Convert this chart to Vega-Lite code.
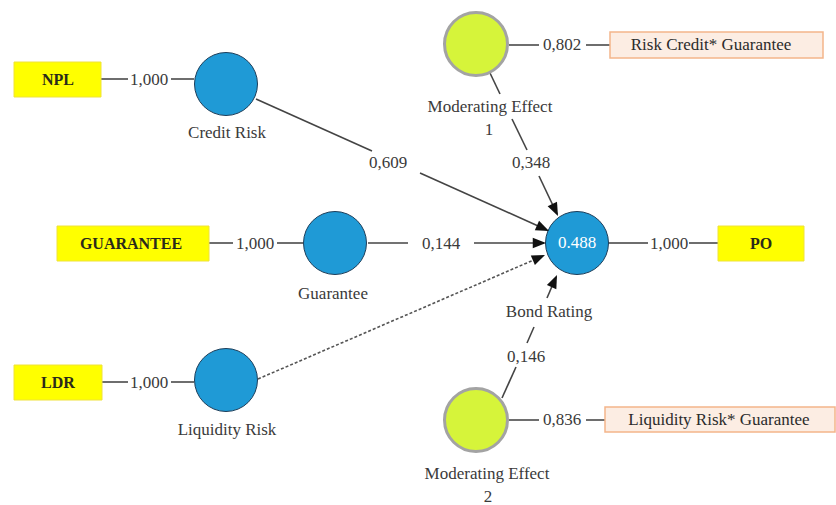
{
  "$schema": "https://vega.github.io/schema/vega-lite/v6.json",
  "width": 836,
  "height": 505,
  "autosize": {"type": "fit", "contains": "padding"},
  "padding": 0,
  "background": "#ffffff",
  "config": {"view": {"stroke": null}},
  "datasets": {
    "nodes": [
      {"name": "Credit Risk", "kind": "latent", "x": 226, "y": 84},
      {"name": "Guarantee", "kind": "latent", "x": 335, "y": 243},
      {"name": "Liquidity Risk", "kind": "latent", "x": 226, "y": 380},
      {"name": "Bond Rating", "kind": "latent", "x": 577, "y": 243},
      {"name": "Moderating Effect 1", "kind": "moderator", "x": 476, "y": 44},
      {"name": "Moderating Effect 2", "kind": "moderator", "x": 476, "y": 420}
    ],
    "boxes": [
      {"label": "NPL", "kind": "indicator", "x1": 14, "x2": 101, "y1": 62, "y2": 97, "lx": 58, "ly": 80},
      {"label": "GUARANTEE", "kind": "indicator", "x1": 57, "x2": 209, "y1": 226, "y2": 261, "lx": 131, "ly": 244},
      {"label": "LDR", "kind": "indicator", "x1": 14, "x2": 102, "y1": 365, "y2": 400, "lx": 58, "ly": 383},
      {"label": "PO", "kind": "indicator", "x1": 718, "x2": 804, "y1": 226, "y2": 261, "lx": 761, "ly": 244},
      {"label": "Risk Credit* Guarantee", "kind": "interaction", "x1": 610, "x2": 823, "y1": 32, "y2": 58, "lx": 711, "ly": 45},
      {"label": "Liquidity Risk* Guarantee", "kind": "interaction", "x1": 605, "x2": 835, "y1": 407, "y2": 432, "lx": 719, "ly": 420}
    ],
    "segments": [
      {"edge": "NPL-Credit Risk", "kind": "outer", "x": 101, "y": 79, "x2": 128, "y2": 79},
      {"edge": "NPL-Credit Risk", "kind": "outer", "x": 171, "y": 79, "x2": 194, "y2": 79},
      {"edge": "GUARANTEE-Guarantee", "kind": "outer", "x": 209, "y": 243, "x2": 233, "y2": 243},
      {"edge": "GUARANTEE-Guarantee", "kind": "outer", "x": 277, "y": 243, "x2": 303, "y2": 243},
      {"edge": "LDR-Liquidity Risk", "kind": "outer", "x": 102, "y": 382, "x2": 128, "y2": 382},
      {"edge": "LDR-Liquidity Risk", "kind": "outer", "x": 171, "y": 382, "x2": 194, "y2": 382},
      {"edge": "Bond Rating-PO", "kind": "outer", "x": 608, "y": 243, "x2": 648, "y2": 243},
      {"edge": "Bond Rating-PO", "kind": "outer", "x": 689, "y": 243, "x2": 718, "y2": 243},
      {"edge": "ME1-Interaction", "kind": "outer", "x": 509, "y": 45, "x2": 539, "y2": 45},
      {"edge": "ME1-Interaction", "kind": "outer", "x": 586, "y": 45, "x2": 610, "y2": 45},
      {"edge": "ME2-Interaction", "kind": "outer", "x": 509, "y": 420, "x2": 539, "y2": 420},
      {"edge": "ME2-Interaction", "kind": "outer", "x": 586, "y": 420, "x2": 605, "y2": 420},
      {"edge": "Guarantee-Bond Rating", "kind": "inner", "x": 368, "y": 243, "x2": 408, "y2": 243},
      {"edge": "Guarantee-Bond Rating", "kind": "inner", "x": 474, "y": 243, "x2": 544, "y2": 243},
      {"edge": "Credit Risk-Bond Rating", "kind": "inner", "x": 256, "y": 99, "x2": 372, "y2": 151},
      {"edge": "Credit Risk-Bond Rating", "kind": "inner", "x": 420, "y": 173, "x2": 547, "y2": 230},
      {"edge": "ME1-Bond Rating", "kind": "inner", "x": 490, "y": 73, "x2": 500, "y2": 94},
      {"edge": "ME1-Bond Rating", "kind": "inner", "x": 512, "y": 119, "x2": 527, "y2": 150},
      {"edge": "ME1-Bond Rating", "kind": "inner", "x": 539, "y": 176, "x2": 557, "y2": 214},
      {"edge": "ME2-Bond Rating", "kind": "inner", "x": 502, "y": 398, "x2": 516, "y2": 367},
      {"edge": "ME2-Bond Rating", "kind": "inner", "x": 527, "y": 343, "x2": 534, "y2": 327},
      {"edge": "ME2-Bond Rating", "kind": "inner", "x": 547, "y": 298, "x2": 556, "y2": 277},
      {"edge": "Liquidity Risk-Bond Rating", "kind": "dashed", "x": 258, "y": 379, "x2": 543, "y2": 256}
    ],
    "arrows": [
      {"edge": "Guarantee-Bond Rating", "sx": 474, "sy": 243, "tx": 546, "ty": 243},
      {"edge": "Credit Risk-Bond Rating", "sx": 420, "sy": 173, "tx": 549, "ty": 231},
      {"edge": "ME1-Bond Rating", "sx": 490, "sy": 73, "tx": 558, "ty": 216},
      {"edge": "Liquidity Risk-Bond Rating", "sx": 258, "sy": 379, "tx": 545, "ty": 255},
      {"edge": "ME2-Bond Rating", "sx": 502, "sy": 398, "tx": 557, "ty": 275}
    ],
    "labels": [
      {"text": "1,000", "kind": "edge", "x": 149, "y": 80},
      {"text": "1,000", "kind": "edge", "x": 255, "y": 244},
      {"text": "1,000", "kind": "edge", "x": 149, "y": 383},
      {"text": "1,000", "kind": "edge", "x": 669, "y": 244},
      {"text": "0,144", "kind": "edge", "x": 441, "y": 244},
      {"text": "0,609", "kind": "edge", "x": 388, "y": 163},
      {"text": "0,348", "kind": "edge", "x": 531, "y": 163},
      {"text": "0,146", "kind": "edge", "x": 526, "y": 357},
      {"text": "0,802", "kind": "edge", "x": 562, "y": 45},
      {"text": "0,836", "kind": "edge", "x": 562, "y": 420},
      {"text": "Credit Risk", "kind": "node", "x": 227, "y": 133},
      {"text": "Guarantee", "kind": "node", "x": 333, "y": 294},
      {"text": "Liquidity Risk", "kind": "node", "x": 227, "y": 430},
      {"text": "Bond Rating", "kind": "node", "x": 549, "y": 312},
      {"text": "Moderating Effect", "kind": "node", "x": 490, "y": 107},
      {"text": "1", "kind": "node", "x": 489, "y": 130},
      {"text": "Moderating Effect", "kind": "node", "x": 487, "y": 474},
      {"text": "2", "kind": "node", "x": 488, "y": 497},
      {"text": "0.488", "kind": "value", "x": 577, "y": 243}
    ]
  },
  "layer": [
    {
      "data": {"name": "segments"},
      "transform": [{"filter": "datum.kind === 'outer'"}],
      "mark": {"type": "rule", "stroke": "#6e6e6e", "strokeWidth": 2},
      "encoding": {
        "x": {"field": "x", "type": "quantitative", "scale": {"domain": [0, 836], "nice": false, "zero": false}, "axis": null},
        "y": {"field": "y", "type": "quantitative", "scale": {"domain": [0, 505], "nice": false, "zero": false, "reverse": true}, "axis": null},
        "x2": {"field": "x2"},
        "y2": {"field": "y2"}
      }
    },
    {
      "data": {"name": "segments"},
      "transform": [{"filter": "datum.kind === 'inner'"}],
      "mark": {"type": "rule", "stroke": "#444444", "strokeWidth": 1.6},
      "encoding": {
        "x": {"field": "x", "type": "quantitative"},
        "y": {"field": "y", "type": "quantitative"},
        "x2": {"field": "x2"},
        "y2": {"field": "y2"}
      }
    },
    {
      "data": {"name": "segments"},
      "transform": [{"filter": "datum.kind === 'dashed'"}],
      "mark": {"type": "rule", "stroke": "#555555", "strokeWidth": 1.6, "strokeDash": [3, 2]},
      "encoding": {
        "x": {"field": "x", "type": "quantitative"},
        "y": {"field": "y", "type": "quantitative"},
        "x2": {"field": "x2"},
        "y2": {"field": "y2"}
      }
    },
    {
      "data": {"name": "boxes"},
      "transform": [{"filter": "datum.kind === 'indicator'"}],
      "mark": {"type": "rect", "fill": "#ffff00", "stroke": "#efe23a", "strokeWidth": 1},
      "encoding": {
        "x": {"field": "x1", "type": "quantitative"},
        "x2": {"field": "x2"},
        "y": {"field": "y1", "type": "quantitative"},
        "y2": {"field": "y2"}
      }
    },
    {
      "data": {"name": "boxes"},
      "transform": [{"filter": "datum.kind === 'interaction'"}],
      "mark": {"type": "rect", "fill": "#fcede3", "stroke": "#f4b58a", "strokeWidth": 1.5},
      "encoding": {
        "x": {"field": "x1", "type": "quantitative"},
        "x2": {"field": "x2"},
        "y": {"field": "y1", "type": "quantitative"},
        "y2": {"field": "y2"}
      }
    },
    {
      "data": {"name": "nodes"},
      "transform": [{"filter": "datum.kind === 'latent'"}],
      "mark": {"type": "point", "shape": "circle", "filled": true, "fill": "#1f9ad6", "stroke": "#1d3e5a", "strokeWidth": 1, "size": 3969, "opacity": 1},
      "encoding": {
        "x": {"field": "x", "type": "quantitative"},
        "y": {"field": "y", "type": "quantitative"}
      }
    },
    {
      "data": {"name": "nodes"},
      "transform": [{"filter": "datum.kind === 'moderator'"}],
      "mark": {"type": "point", "shape": "circle", "filled": true, "fill": "#d6f43a", "stroke": "#a3a3a3", "strokeWidth": 3, "size": 3969, "opacity": 1},
      "encoding": {
        "x": {"field": "x", "type": "quantitative"},
        "y": {"field": "y", "type": "quantitative"}
      }
    },
    {
      "data": {"name": "arrows"},
      "transform": [{"calculate": "atan2(datum.tx - datum.sx, datum.sy - datum.ty) * 180 / PI", "as": "heading"}],
      "mark": {"type": "point", "shape": "M0,0L-0.45,1.15L0.45,1.15Z", "filled": true, "fill": "#111111", "stroke": null, "size": 529, "opacity": 1},
      "encoding": {
        "x": {"field": "tx", "type": "quantitative"},
        "y": {"field": "ty", "type": "quantitative"},
        "angle": {"field": "heading", "type": "quantitative", "scale": null}
      }
    },
    {
      "data": {"name": "boxes"},
      "transform": [{"filter": "datum.kind === 'indicator'"}],
      "mark": {"type": "text", "font": "Liberation Serif, DejaVu Serif, serif", "fontSize": 16, "fontWeight": "bold", "fill": "#2a2a1a", "align": "center", "baseline": "middle"},
      "encoding": {
        "x": {"field": "lx", "type": "quantitative"},
        "y": {"field": "ly", "type": "quantitative"},
        "text": {"field": "label"}
      }
    },
    {
      "data": {"name": "boxes"},
      "transform": [{"filter": "datum.kind === 'interaction'"}],
      "mark": {"type": "text", "font": "Liberation Serif, DejaVu Serif, serif", "fontSize": 17, "fill": "#2b2b2b", "align": "center", "baseline": "middle"},
      "encoding": {
        "x": {"field": "lx", "type": "quantitative"},
        "y": {"field": "ly", "type": "quantitative"},
        "text": {"field": "label"}
      }
    },
    {
      "data": {"name": "labels"},
      "transform": [{"filter": "datum.kind !== 'value'"}],
      "mark": {"type": "text", "font": "Liberation Serif, DejaVu Serif, serif", "fontSize": 17, "fill": "#3a3a3a", "align": "center", "baseline": "middle"},
      "encoding": {
        "x": {"field": "x", "type": "quantitative"},
        "y": {"field": "y", "type": "quantitative"},
        "text": {"field": "text"}
      }
    },
    {
      "data": {"name": "labels"},
      "transform": [{"filter": "datum.kind === 'value'"}],
      "mark": {"type": "text", "font": "Liberation Serif, DejaVu Serif, serif", "fontSize": 17, "fill": "#ffffff", "align": "center", "baseline": "middle"},
      "encoding": {
        "x": {"field": "x", "type": "quantitative"},
        "y": {"field": "y", "type": "quantitative"},
        "text": {"field": "text"}
      }
    }
  ]
}
